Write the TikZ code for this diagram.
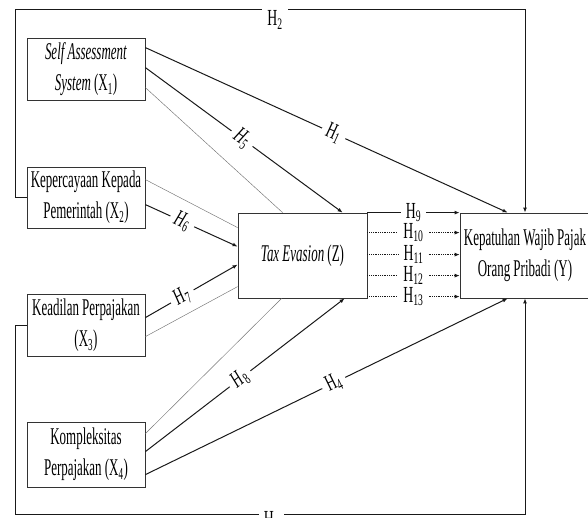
\documentclass[tikz,border=0pt]{standalone}
\usepackage{fontspec}
\setmainfont[FakeStretch=0.54]{Liberation Serif}
\newfontfamily\labfont[FakeStretch=0.6]{Liberation Serif}
\usetikzlibrary{arrows.meta,calc}
\begin{document}
\begin{tikzpicture}[x=1pt,y=-1pt,
 box/.style={draw=black!80, line width=0.8pt, inner sep=0pt, align=center, font=\fontsize{24}{31}\selectfont, fill=white},
 main/.style={line width=1pt, draw=black!90},
 thinl/.style={line width=0.45pt, draw=black!55},
 arr/.style={-{Latex[length=5pt,width=4pt]}},
 lab/.style={fill=white, inner xsep=5pt, inner ysep=0pt, font=\labfont\fontsize{23}{23}\selectfont},
 edgelab/.style={lab, anchor=north, inner ysep=1.5pt, yshift=1.5pt},
 dots/.style={line width=0.8pt, draw=black!90, dash pattern=on 1pt off 0.8pt}
]
\useasboundingbox (0,0) rectangle (588,518);

% boxes
\node[box, minimum width=118pt, minimum height=62pt] (x1) at (86,69) {\textit{Self Assessment}\\\textit{System} (X\textsubscript{1})};
\node[box, minimum width=118pt, minimum height=61pt] (x2) at (86,197.5) {Kepercayaan Kepada\\Pemerintah (X\textsubscript{2})};
\node[box, minimum width=118pt, minimum height=62pt] (x3) at (86,325) {Keadilan Perpajakan\\(X\textsubscript{3})};
\node[box, minimum width=118pt, minimum height=65pt] (x4) at (86,454.5) {Kompleksitas\\Perpajakan (X\textsubscript{4})};
\node[box, minimum width=129pt, minimum height=85pt] (z) at (302.5,255.5) {\textit{Tax Evasion} (Z)};
\node[box, minimum width=130pt, minimum height=85pt] (y) at (525,255.5) {Kepatuhan Wajib Pajak\\Orang Pribadi (Y)};

% outer brackets
\coordinate (tl) at (15,10);
\coordinate (tr) at (525,10);
\coordinate (bl) at (15,514);
\coordinate (br) at (525,514);
\draw[main,arr] (x2.west) -| (tl) -- node[edgelab,pos=0.51]{H\textsubscript{2}} (tr) -- (y.north -| tr);
\draw[main,arr] (x3.west) -| (bl) -- node[edgelab,pos=0.503,yshift=3pt]{H\textsubscript{3}} (br) -- (y.south -| br);

% from X1
\draw[main,arr] ($(x1.north east)+(0,10)$) -- node[lab,sloped,pos=0.52]{H\textsubscript{1}} ($(y.north west)+(48,0)$);
\draw[main,arr] ($(x1.north east)+(0,30)$) -- node[lab,sloped,pos=0.49]{\textit{H}\textsubscript{5}} ($(z.north west)+(105,0)$);
\draw[thinl] ($(x1.north east)+(0,50)$) -- ($(z.north west)+(45,0)$);

% from X2
\draw[thinl] ($(x2.north east)+(0,13)$) -- ($(z.north west)+(0,15)$);
\draw[main,arr] ($(x2.north east)+(0,38)$) -- node[lab,sloped,pos=0.40]{\textit{H}\textsubscript{6}} ($(z.north west)+(0,34)$);

% from X3
\draw[main,arr] ($(x3.north east)+(0,24)$) -- node[lab,sloped,pos=0.40]{\textit{H}\textsubscript{7}} ($(z.north west)+(0,52)$);
\draw[thinl] ($(x3.north east)+(0,43)$) -- ($(z.north west)+(0,74)$);

% from X4
\draw[thinl] ($(x4.north east)+(0,12)$) -- ($(z.south west)+(44,0)$);
\draw[main,arr] ($(x4.north east)+(0,30)$) -- node[lab,sloped,pos=0.475]{\textit{H}\textsubscript{8}} ($(z.south west)+(107,0)$);
\draw[main,arr] ($(x4.north east)+(0,53)$) -- node[lab,sloped,pos=0.52]{H\textsubscript{4}} ($(y.south west)+(48,0)$);

% Z to Y
\draw[main,arr] (z.north east) -- node[lab]{H\textsubscript{9}} (y.north west);
\draw[dots,arr] ($(z.north east)+(0,20)$) -- node[lab]{H\textsubscript{10}} ($(y.north west)+(0,20)$);
\draw[dots,arr] ($(z.north east)+(0,42)$) -- node[lab]{H\textsubscript{11}} ($(y.north west)+(0,42)$);
\draw[dots,arr] ($(z.north east)+(0,63)$) -- node[lab]{H\textsubscript{12}} ($(y.north west)+(0,63)$);
\draw[dots,arr] ($(z.north east)+(0,84)$) -- node[lab]{H\textsubscript{13}} ($(y.north west)+(0,84)$);
\end{tikzpicture}
\end{document}
